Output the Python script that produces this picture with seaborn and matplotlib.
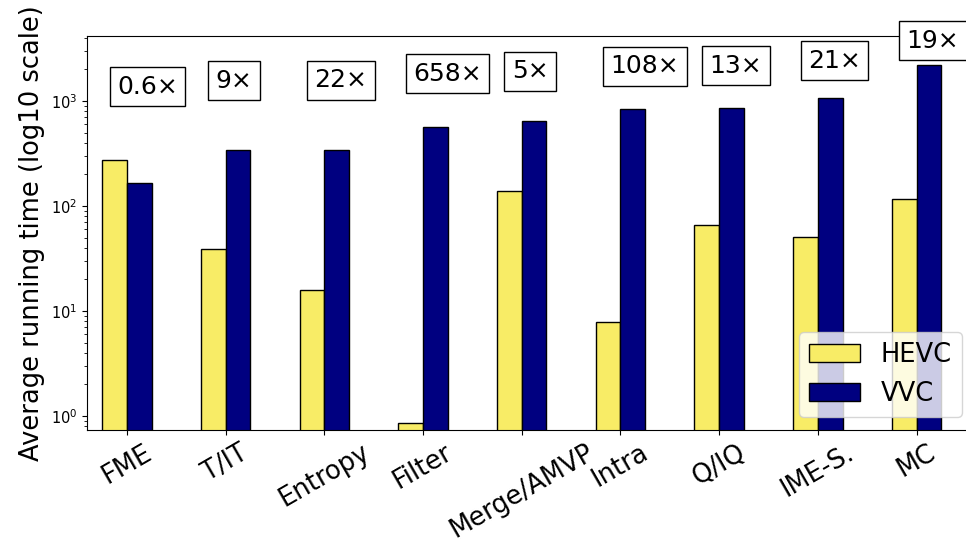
import matplotlib
matplotlib.use("Agg")
import matplotlib.pyplot as plt
import matplotlib.patches as mpatches
import pandas as pd
import seaborn as sns

# Average running time per coding module (log scale), HEVC vs VVC
modules = ["FME", "T/IT", "Entropy", "Filter", "Merge/AMVP", "Intra", "Q/IQ", "IME-S.", "MC"]
hevc_time = [274, 39, 16, 0.86, 140, 7.85, 66, 51, 117]
vvc_time = [167, 341, 345, 565, 650, 845, 858, 1075, 2200]
speedup_labels = ["0.6×", "9×", "22×", "658×", "5×", "108×", "13×", "21×", "19×"]

codecs = ["HEVC", "VVC"]
palette = {"HEVC": "#F8EC66", "VVC": "#000080"}

df = pd.DataFrame({
    "module": modules * 2,
    "codec": ["HEVC"] * len(modules) + ["VVC"] * len(modules),
    "time": hevc_time + vvc_time,
})

plt.rcParams["font.family"] = ["DejaVu Sans"]
fig = plt.figure(figsize=(9.66, 5.47), dpi=100)
ax = fig.add_axes([87 / 966, 117 / 547, 888 / 966, 394 / 547])

sns.barplot(
    data=df, x="module", y="time", hue="codec",
    order=modules, hue_order=codecs, palette=palette,
    width=0.5, saturation=1, edgecolor="black", linewidth=1,
    errorbar=None, legend=False, ax=ax,
)

ax.set_yscale("log")
ax.set_ylim(0.736, 4160)
ax.set_xlim(-0.405, 8.592)

# speed-up boxes above each VVC bar
for i, (v, lab) in enumerate(zip(vvc_time, speedup_labels)):
    ax.text(i - 0.1, v + 1000, lab, ha="left", fontsize=18,
            bbox=dict(boxstyle="square,pad=0.3", fc="white", ec="black", lw=1))

ax.set_xlabel("")
ax.set_ylabel("Average running time (log10 scale)", fontsize=18.5)
ax.tick_params(axis="y", labelsize=10.5)
ax.tick_params(axis="x", labelsize=18.5)
plt.setp(ax.get_xticklabels(), rotation=30, ha="center")

handles = [mpatches.Patch(facecolor=palette[c], edgecolor="black", label=c) for c in codecs]
ax.legend(handles=handles, loc="lower right", fontsize=18.5)

fig.savefig("out.png", dpi=100)
